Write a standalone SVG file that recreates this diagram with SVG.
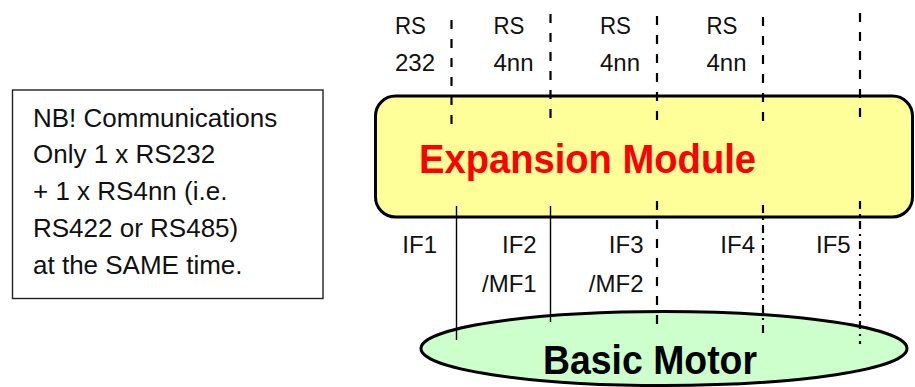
<svg xmlns="http://www.w3.org/2000/svg" width="915" height="387" viewBox="0 0 915 387">
<style>
.lbl{font-family:"Liberation Sans",Arial,sans-serif;font-size:24px;fill:#111}
.note{font-family:"Liberation Sans",Arial,sans-serif;font-size:26px;fill:#111}
.big{font-family:"Liberation Sans",Arial,sans-serif;font-size:41px;font-weight:bold}
.dash{stroke:#000;stroke-width:2.2;stroke-dasharray:9,10;fill:none}
.dashdot{stroke:#000;stroke-width:2.2;stroke-dasharray:8,5,2,5;fill:none}
.solid{stroke:#000;stroke-width:1.4;fill:none}
</style>
<rect width="915" height="387" fill="#fff"/>
<g id="note">
<rect x="12.5" y="90" width="310.5" height="208.5" fill="#fff" stroke="#222" stroke-width="1.4"/>
<text class="note" x="33" y="126.5">NB! Communications</text>
<text class="note" x="33" y="163.3">Only 1 x RS232</text>
<text class="note" x="33" y="200.1">+ 1 x RS4nn (i.e.</text>
<text class="note" x="33" y="237">RS422 or RS485)</text>
<text class="note" x="33" y="274">at the SAME time.</text>
</g>
<g id="expansion-module">
<rect x="375.5" y="96" width="537" height="121" rx="20" ry="20" fill="#FFFF99" stroke="#000" stroke-width="3"/>
<text class="big" x="419" y="172.5" fill="#FF0000" textLength="337" lengthAdjust="spacingAndGlyphs">Expansion Module</text>
</g>
<g id="basic-motor">
<ellipse cx="664" cy="348.5" rx="243" ry="37" fill="#CCFFCC" stroke="#000" stroke-width="3"/>
<text class="big" x="543" y="373.5" fill="#000" textLength="214" lengthAdjust="spacingAndGlyphs">Basic Motor</text>
</g>
<g id="connectors">
<line class="dash" x1="451.5" y1="20" x2="451.5" y2="125"/>
<line class="dash" x1="550.5" y1="14" x2="550.5" y2="122"/>
<line class="dash" x1="657" y1="16" x2="657" y2="122"/>
<line class="dash" x1="763" y1="17" x2="763" y2="124"/>
<line class="dash" x1="860" y1="13" x2="860" y2="118"/>
<line class="solid" x1="456.5" y1="206" x2="456.5" y2="340"/>
<line class="solid" x1="550.5" y1="206" x2="550.5" y2="322"/>
<line class="dash" x1="657" y1="201" x2="657" y2="331"/>
<line class="dashdot" x1="763" y1="205" x2="763" y2="336"/>
<line class="dashdot" x1="860" y1="201" x2="860" y2="344"/>
</g>
<g id="labels">
<text class="lbl" x="395" y="33.5" textLength="31" lengthAdjust="spacingAndGlyphs">RS</text>
<text class="lbl" x="395" y="71">232</text>
<text class="lbl" x="493.5" y="33.5" textLength="31" lengthAdjust="spacingAndGlyphs">RS</text>
<text class="lbl" x="493.5" y="71">4nn</text>
<text class="lbl" x="600" y="33.5" textLength="31" lengthAdjust="spacingAndGlyphs">RS</text>
<text class="lbl" x="600" y="71">4nn</text>
<text class="lbl" x="706.5" y="33.5" textLength="31" lengthAdjust="spacingAndGlyphs">RS</text>
<text class="lbl" x="706.5" y="71">4nn</text>
<text class="lbl" x="437" y="253.3" text-anchor="end">IF1</text>
<text class="lbl" x="536.7" y="253.3" text-anchor="end">IF2</text>
<text class="lbl" x="536.7" y="291.7" text-anchor="end">/MF1</text>
<text class="lbl" x="643.5" y="253.3" text-anchor="end">IF3</text>
<text class="lbl" x="643.5" y="291.7" text-anchor="end">/MF2</text>
<text class="lbl" x="755" y="253.3" text-anchor="end">IF4</text>
<text class="lbl" x="850.7" y="253.3" text-anchor="end">IF5</text>
</g>
</svg>
